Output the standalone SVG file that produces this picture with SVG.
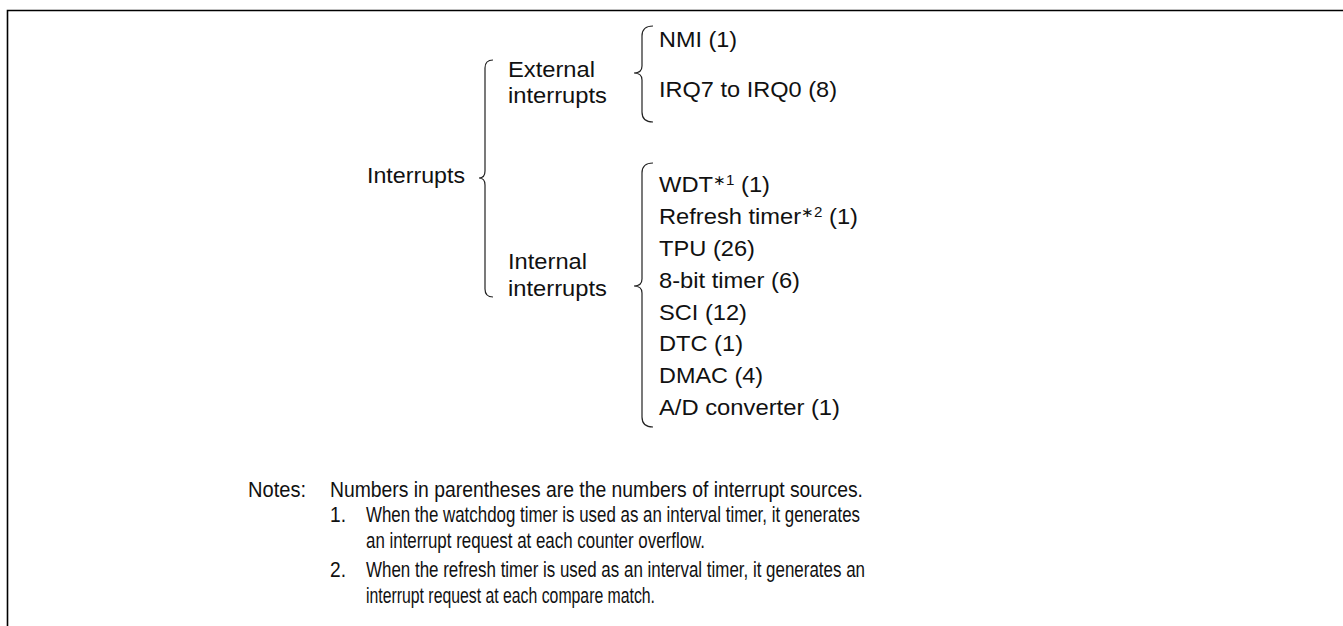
<svg xmlns="http://www.w3.org/2000/svg" width="1343" height="626" viewBox="0 0 1343 626">
<style>
.t{font-family:"Liberation Sans",Arial,sans-serif;font-size:22px;fill:#111}
.n{font-family:"Liberation Sans",Arial,sans-serif;font-size:22px;fill:#111}
.sup{font-size:14px}
.br{fill:none;stroke:#222;stroke-width:1.2}
.fr{fill:none;stroke:#000;stroke-width:1.6}
</style>
<rect width="1343" height="626" fill="#fff"/>
<path class="fr" d="M7.5,626 V10.5 H1343"/>
<g id="connectors">
<path class="br" d="M493,60 Q485,60 485,68 V171 Q485,178 479,178 Q485,178 485,185 V289 Q485,297 493,297"/>
<path class="br" d="M653,26 Q642,26 642,36 V66 Q642,73 634,73 Q642,73 642,80 V112 Q642,122 653,122"/>
<path class="br" d="M653,163 Q642,163 642,173 V279 Q642,286 634,286 Q642,286 642,293 V417 Q642,427 653,427"/>
</g>
<g id="interrupts"><text class="t" x="367" y="183" textLength="98" lengthAdjust="spacingAndGlyphs">Interrupts</text></g>
<g id="external"><text class="t" x="508" y="77" textLength="87" lengthAdjust="spacingAndGlyphs">External</text><text class="t" x="508" y="103" textLength="99" lengthAdjust="spacingAndGlyphs">interrupts</text></g>
<g id="internal"><text class="t" x="508" y="269" textLength="79" lengthAdjust="spacingAndGlyphs">Internal</text><text class="t" x="508" y="296" textLength="99" lengthAdjust="spacingAndGlyphs">interrupts</text></g>
<g id="nmi"><text class="t" x="659" y="47" textLength="78" lengthAdjust="spacingAndGlyphs">NMI (1)</text></g>
<g id="irq"><text class="t" x="659" y="97" textLength="178" lengthAdjust="spacingAndGlyphs">IRQ7 to IRQ0 (8)</text></g>
<g id="wdt"><text class="t" x="659" y="192" textLength="111" lengthAdjust="spacingAndGlyphs">WDT<tspan class="sup" dy="-7">∗1</tspan><tspan dy="7"> (1)</tspan></text></g>
<g id="refresh"><text class="t" x="659" y="224" textLength="199" lengthAdjust="spacingAndGlyphs">Refresh timer<tspan class="sup" dy="-7">∗2</tspan><tspan dy="7"> (1)</tspan></text></g>
<g id="tpu"><text class="t" x="659" y="256" textLength="96" lengthAdjust="spacingAndGlyphs">TPU (26)</text></g>
<g id="tmr8"><text class="t" x="659" y="288" textLength="141" lengthAdjust="spacingAndGlyphs">8-bit timer (6)</text></g>
<g id="sci"><text class="t" x="659" y="319.5" textLength="88" lengthAdjust="spacingAndGlyphs">SCI (12)</text></g>
<g id="dtc"><text class="t" x="659" y="351" textLength="84" lengthAdjust="spacingAndGlyphs">DTC (1)</text></g>
<g id="dmac"><text class="t" x="659" y="383" textLength="104" lengthAdjust="spacingAndGlyphs">DMAC (4)</text></g>
<g id="adc"><text class="t" x="659" y="415" textLength="181" lengthAdjust="spacingAndGlyphs">A/D converter (1)</text></g>
<g id="notes">
<text class="n" x="248" y="497" textLength="58" lengthAdjust="spacingAndGlyphs">Notes:</text>
<text class="n" x="330" y="497" textLength="533" lengthAdjust="spacingAndGlyphs">Numbers in parentheses are the numbers of interrupt sources.</text>
<text class="n" x="330" y="522" textLength="16" lengthAdjust="spacingAndGlyphs">1.</text>
<text class="n" x="366" y="522" textLength="494" lengthAdjust="spacingAndGlyphs">When the watchdog timer is used as an interval timer, it generates</text>
<text class="n" x="366" y="548" textLength="339" lengthAdjust="spacingAndGlyphs">an interrupt request at each counter overflow.</text>
<text class="n" x="330" y="577" textLength="16" lengthAdjust="spacingAndGlyphs">2.</text>
<text class="n" x="366" y="577" textLength="499" lengthAdjust="spacingAndGlyphs">When the refresh timer is used as an interval timer, it generates an</text>
<text class="n" x="366" y="603" textLength="289" lengthAdjust="spacingAndGlyphs">interrupt request at each compare match.</text>
</g>
</svg>
